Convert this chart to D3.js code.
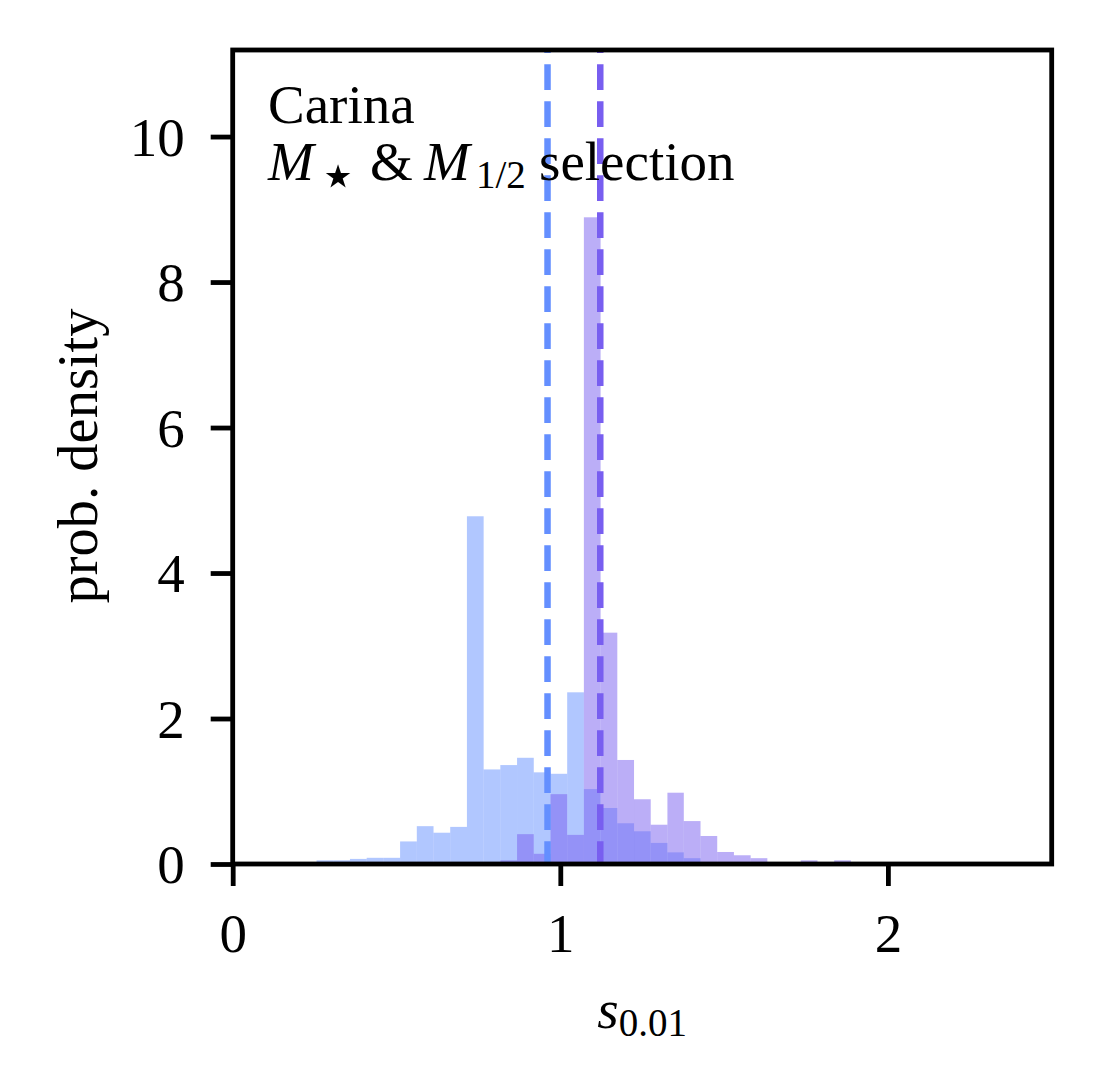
<!DOCTYPE html>
<html>
<head>
<meta charset="utf-8">
<script src="https://cdn.jsdelivr.net/npm/d3@7/dist/d3.min.js"></script>
<style>
  body { margin: 0; background: #fff; }
  svg text { font-family: "Liberation Serif", "Times New Roman", Tinos, "DejaVu Serif", serif; fill: #000; }
</style>
</head>
<body>
<script>
// bin edges shared by both histograms (s_0.01)
var binEdges = [0.256, 0.307, 0.358, 0.409, 0.460, 0.511, 0.562, 0.613, 0.664, 0.715,
                0.766, 0.817, 0.868, 0.919, 0.970, 1.021, 1.072, 1.123, 1.174, 1.225,
                1.276, 1.327, 1.377, 1.428, 1.479, 1.530, 1.581, 1.632, 1.683, 1.734,
                1.785, 1.836, 1.887];

// M_star selection (blue)
var densBlue = [0.05, 0.05, 0.07, 0.085, 0.085, 0.31, 0.52, 0.43, 0.51, 4.78,
                1.30, 1.36, 1.46, 1.26, 1.24, 2.36, 1.03, 0.77, 0.56, 0.45,
                0.29, 0.16, 0.08, 0, 0, 0, 0, 0, 0, 0,
                0, 0];

// M_star & M_1/2 selection (purple)
var densPurple = [0, 0, 0, 0, 0, 0, 0, 0, 0, 0,
                  0, 0.05, 0.41, 0.14, 0.96, 0.40, 8.89, 3.18, 1.43, 0.89,
                  0.54, 0.98, 0.59, 0.385, 0.165, 0.12, 0.08, 0, 0, 0.05,
                  0, 0.05];

// medians shown as dashed lines
var medianBlue = 0.961;
var medianPurple = 1.122;

var xTicks = [0, 1, 2];
var yTicks = [0, 2, 4, 6, 8, 10];

var colBlue = "#648FFF";
var colPurple = "#785EF0";
var serif = "'Liberation Serif', 'Times New Roman', Tinos, 'DejaVu Serif', serif";

//set up svg
var W = 1103, H = 1092;
var pLeft = 232.7, pRight = 1051.7, pTop = 50, pBottom = 864;

var svg = d3.select("body").append("svg")
  .attr("width", W)
  .attr("height", H);

var x = d3.scaleLinear().domain([0, 2.5]).range([pLeft, pRight]);
var y = d3.scaleLinear().domain([0, 11.19]).range([pBottom, pTop]);

svg.append("clipPath").attr("id", "plotclip")
  .append("rect")
  .attr("x", pLeft).attr("y", pTop)
  .attr("width", pRight - pLeft).attr("height", pBottom - pTop);

var plot = svg.append("g").attr("clip-path", "url(#plotclip)");

// histogram bars
function drawHist(dens, colour) {
  plot.append("g").selectAll("rect")
    .data(dens.map(function(d, i) { return {v: d, x0: binEdges[i], x1: binEdges[i + 1]}; })
      .filter(function(d) { return d.v > 0; }))
    .enter().append("rect")
    .attr("x", function(d) { return x(d.x0); })
    .attr("width", function(d) { return x(d.x1) - x(d.x0); })
    .attr("y", function(d) { return y(d.v); })
    .attr("height", function(d) { return y(0) - y(d.v); })
    .attr("fill", colour)
    .attr("fill-opacity", 0.5);
}
drawHist(densBlue, colBlue);
drawHist(densPurple, colPurple);

// annotation (lines are drawn over it, as in the original)
var ann = svg.append("text").attr("font-size", 55).style("font-family", serif);
ann.append("tspan").attr("x", 268).attr("y", 123).text("Carina");

var l2 = svg.append("text").attr("font-size", 55).attr("y", 180).style("font-family", serif);
l2.append("tspan").attr("x", 268).attr("font-style", "italic").text("M");
l2.append("tspan").attr("x", 318).attr("dy", 17)
  .style("font-family", "DejaVu Sans").attr("font-size", 64).text("\u22C6");
l2.append("tspan").attr("x", 370).attr("dy", -17).text("&");
l2.append("tspan").attr("x", 424).attr("font-style", "italic").text("M");
l2.append("tspan").attr("x", 476).attr("dy", 8).attr("font-size", 39).text("1/2");
l2.append("tspan").attr("x", 539).attr("dy", -8).text("selection");

// dashed median lines
[[medianBlue, colBlue], [medianPurple, colPurple]].forEach(function(m) {
  plot.append("line")
    .attr("x1", x(m[0])).attr("x2", x(m[0]))
    .attr("y1", pTop).attr("y2", pBottom)
    .attr("stroke", m[1])
    .attr("stroke-width", 6.5)
    .attr("stroke-dasharray", "25.7 11.3")
    .attr("stroke-dashoffset", 22.7);
});

//axes
var yAxis = d3.axisLeft(y).tickValues(yTicks).tickSize(22).tickSizeOuter(0).tickPadding(26)
  .tickFormat(d3.format("d"));
var xAxis = d3.axisBottom(x).tickValues(xTicks).tickSize(22).tickSizeOuter(0)
  .tickFormat(d3.format("d"));

var gy = svg.append("g").attr("transform", "translate(" + pLeft + ",0)").call(yAxis);
var gx = svg.append("g").attr("transform", "translate(0," + pBottom + ")").call(xAxis);

[gy, gx].forEach(function(g) {
  g.attr("font-family", null).attr("font-size", null);
  g.select(".domain").remove();
  g.selectAll(".tick line").attr("stroke", "#000").attr("stroke-width", 4.8);
  g.selectAll(".tick text")
    .attr("font-size", 55)
    .style("font-family", serif);
});
gy.selectAll(".tick text").attr("dy", "0.34em");
gx.selectAll(".tick text").attr("y", 88).attr("dy", 0);

// frame
svg.append("rect")
  .attr("x", pLeft).attr("y", pTop)
  .attr("width", pRight - pLeft).attr("height", pBottom - pTop)
  .attr("fill", "none")
  .attr("stroke", "#000")
  .attr("stroke-width", 4.8);

//axis labels
svg.append("text")
  .attr("transform", "rotate(-90)")
  .attr("x", -(pTop + pBottom) / 2 + 1)
  .attr("y", 97)
  .attr("text-anchor", "middle")
  .attr("font-size", 56.5)
  .style("font-family", serif)
  .text("prob. density");

var xl = svg.append("text")
  .attr("x", (pLeft + pRight) / 2)
  .attr("y", 1028)
  .attr("text-anchor", "middle")
  .attr("font-size", 55)
  .style("font-family", serif);
xl.append("tspan").attr("font-style", "italic").text("s");
xl.append("tspan").attr("dy", 8).attr("font-size", 39).text("0.01");
</script>
</body>
</html>
